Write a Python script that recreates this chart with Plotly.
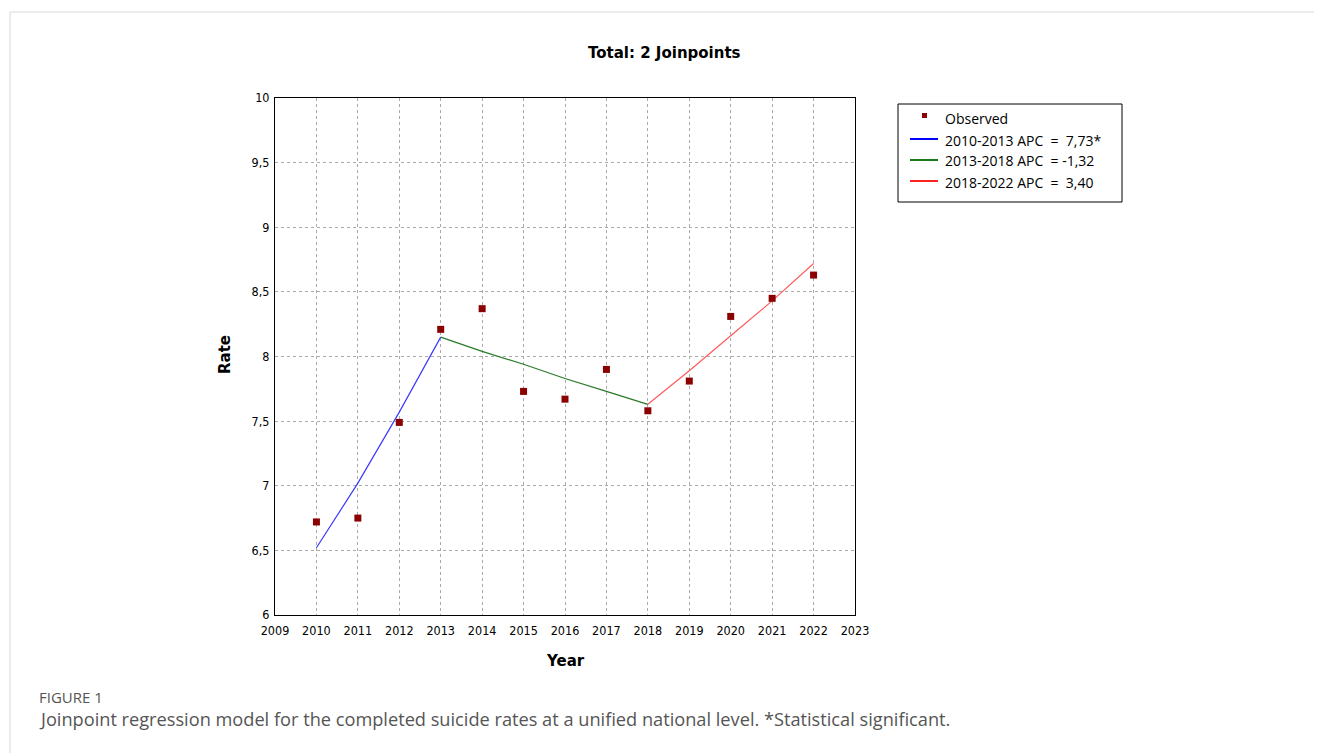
import plotly.graph_objects as go

OFF = 8  # default page body margin
W, H = 1322 - OFF, 753 - OFF

years = [2010, 2011, 2012, 2013, 2014, 2015, 2016, 2017, 2018, 2019, 2020, 2021, 2022]
observed = [6.72, 6.75, 7.49, 8.21, 8.37, 7.73, 7.67, 7.90, 7.58, 7.81, 8.31, 8.45, 8.63]

seg1_years = [2010, 2011, 2012, 2013]
seg1_fit = [6.52, 7.02, 7.57, 8.15]
seg2_years = [2013, 2014, 2015, 2016, 2017, 2018]
seg2_fit = [8.15, 8.04, 7.94, 7.83, 7.73, 7.63]
seg3_years = [2018, 2019, 2020, 2021, 2022]
seg3_fit = [7.63, 7.89, 8.16, 8.43, 8.72]

legend_labels = ["Observed", "2010-2013 APC  =  7,73*", "2013-2018 APC  = -1,32", "2018-2022 APC  =  3,40"]

x_ticks = list(range(2009, 2024))
y_ticks = [6, 6.5, 7, 7.5, 8, 8.5, 9, 9.5, 10]

def px(x):
    return (x - OFF) / W

def py(y):
    return 1 - (y - OFF) / H

fig = go.Figure()
fig.add_trace(go.Scatter(x=seg1_years, y=seg1_fit, mode="lines", line=dict(color="#3a3aff", width=1.2),
                         showlegend=False, hoverinfo="skip"))
fig.add_trace(go.Scatter(x=seg2_years, y=seg2_fit, mode="lines", line=dict(color="#2a7a2a", width=1.2),
                         showlegend=False, hoverinfo="skip"))
fig.add_trace(go.Scatter(x=seg3_years, y=seg3_fit, mode="lines", line=dict(color="#ff5a5a", width=1.2),
                         showlegend=False, hoverinfo="skip"))
fig.add_trace(go.Scatter(x=years, y=observed, mode="markers",
                         marker=dict(symbol="square", size=7, color="#8b0000"),
                         showlegend=False))

tickfont = dict(family="DejaVu Sans Condensed, Liberation Sans, Arial, sans-serif", size=12.5, color="#000")
x0, x1 = 275, 855
y0, y1 = 98, 615

fig.update_layout(
    width=W, height=H,
    margin=dict(l=0, r=0, t=0, b=0, pad=0, autoexpand=False),
    paper_bgcolor="white", plot_bgcolor="white",
    separators=",.",
    showlegend=False,
    xaxis=dict(domain=[px(x0), px(x1)], range=[2009, 2023], tickvals=x_ticks,
               ticktext=[str(v) for v in x_ticks], showgrid=True, automargin=False,
               gridcolor="#aaa", griddash="dot", gridwidth=1, zeroline=False,
               showline=True, linecolor="#000", linewidth=1, mirror=True,
               ticks="", tickfont=tickfont, ticklabelstandoff=4),
    yaxis=dict(domain=[py(y1), py(y0)], range=[6, 10], tickvals=y_ticks, automargin=False,
               showgrid=True, gridcolor="#aaa", griddash="dot", gridwidth=1,
               zeroline=False, showline=True, linecolor="#000", linewidth=1,
               mirror=True, ticks="", tickfont=tickfont, ticklabelstandoff=2),
)

# outer frame of the figure panel
fig.add_shape(type="line", xref="paper", yref="paper", x0=px(10), x1=1, y0=py(12), y1=py(12),
              line=dict(color="#d8d8d8", width=1))
fig.add_shape(type="line", xref="paper", yref="paper", x0=px(10), x1=px(10), y0=py(12), y1=0,
              line=dict(color="#d8d8d8", width=1))

bold = "DejaVu Sans, Verdana, sans-serif"
def ann(text, x, y, font, xanchor="center", angle=0):
    fig.add_annotation(text=text, xref="paper", yref="paper", x=px(x), y=py(y),
                       xanchor=xanchor, yanchor="middle", showarrow=False, textangle=angle, font=font)

ann("<b>Total: 2 Joinpoints</b>", 664, 53, dict(family=bold, size=15, color="#000"))
ann("<b>Year</b>", 565, 661, dict(family=bold, size=15, color="#000"))
ann("<b>Rate</b>", 225, 355, dict(family=bold, size=15, color="#000"), angle=-90)

# legend box
lx0, lx1, ly0, ly1 = 898, 1122, 104, 202
fig.add_shape(type="rect", xref="paper", yref="paper", x0=px(lx0), x1=px(lx1), y0=py(ly1), y1=py(ly0),
              line=dict(color="#000", width=1), fillcolor="white")
leg_rows = [119, 140, 161, 182]
leg_colors = ["#8b0000", "#0000ff", "#1a7a1a", "#ff2020"]
for i, (lab, yy) in enumerate(zip(legend_labels, leg_rows)):
    if i == 0:
        fig.add_shape(type="rect", xref="paper", yref="paper", x0=px(922), x1=px(927),
                      y0=py(yy - 1), y1=py(yy - 6), fillcolor=leg_colors[0], line=dict(width=0))
    else:
        fig.add_shape(type="line", xref="paper", yref="paper", x0=px(910), x1=px(938),
                      y0=py(yy - 1), y1=py(yy - 1), line=dict(color=leg_colors[i], width=2))
    ann(lab, 943, yy, dict(family="Open Sans, Noto Sans, sans-serif", size=14, color="#000"), xanchor="left")

capfont = "Open Sans, Lato, sans-serif"
ann("FIGURE 1", 37, 697, dict(family=capfont, size=15, color="#555"), xanchor="left")
ann("Joinpoint regression model for the completed suicide rates at a unified national level. *Statistical significant.",
    37, 719, dict(family=capfont, size=18.2, color="#555"), xanchor="left")

fig.write_html("out.html")
